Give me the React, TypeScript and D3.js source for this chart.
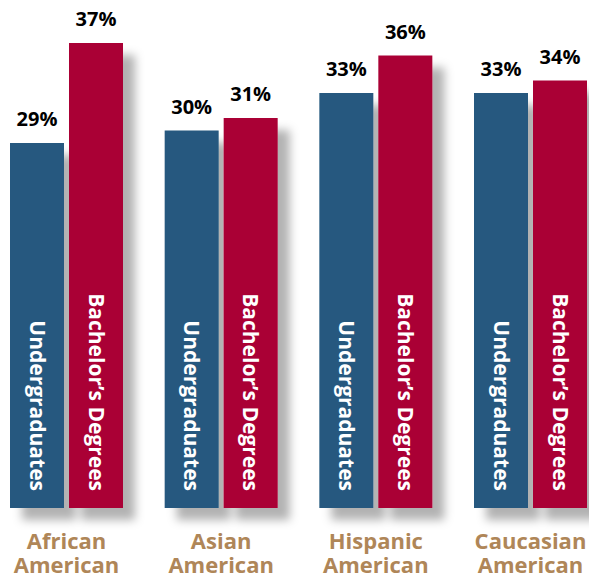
import React from "react";
import * as d3 from "d3";

const categories = ["African\nAmerican", "Asian\nAmerican", "Hispanic\nAmerican", "Caucasian\nAmerican"];
const seriesNames = ["Undergraduates", "Bachelor\u2019s Degrees"];
const undergraduates = [29, 30, 33, 33];
const bachelors = [37, 31, 36, 34];
const seriesValues = [undergraduates, bachelors];
const seriesColors = ["#27587f", "#aa0536"];

const W = 589;
const H = 578;
const BASE = 508;

export default function App() {
  const groupW = 113;
  const x0 = d3.scalePoint<string>().domain(categories).range([10, 587 - groupW]);
  const x1 = d3.scaleBand<string>().domain(seriesNames).range([0, groupW]).paddingInner(5 / 59);
  const y = d3.scaleLinear().domain([0, 37]).range([505.5, 43]);

  return (
    <svg width={W} height={H} style={{ position: "absolute", left: 0, top: 0 }} fontFamily="'Open Sans', sans-serif">
      <defs>
        <filter id="sh" x="-50%" y="-20%" width="200%" height="140%">
          <feDropShadow dx="12" dy="12" stdDeviation="5" floodColor="#000" floodOpacity="0.3" />
        </filter>
      </defs>
      <rect width={W} height={H} fill="#fff" />
      {categories.map((c) => (
        <g key={c} transform={`translate(${x0(c)},0)`}>
          <g filter="url(#sh)">
            {seriesNames.map((s, j) => {
              const i = categories.indexOf(c);
              const v = seriesValues[j][i];
              return (
                <rect key={s} x={x1(s)} y={y(v)} width={x1.bandwidth()} height={BASE - y(v)} fill={seriesColors[j]} />
              );
            })}
          </g>
          {seriesNames.map((s, j) => {
            const i = categories.indexOf(c);
            const v = seriesValues[j][i];
            const cx = (x1(s) as number) + x1.bandwidth() / 2;
            return (
              <g key={s}>
                <text x={cx} y={y(v) - 17} textAnchor="middle" fontSize={20} fontWeight={700} fill="#000">
                  {v}%
                </text>
                <text
                  transform={`translate(${cx - 7.5},491) rotate(90)`}
                  textAnchor="end"
                  fontSize={21}
                  fontWeight={700}
                  fill="#fff"
                >
                  {s}
                </text>
              </g>
            );
          })}
          <text x={groupW / 2} y={549} textAnchor="middle" fontSize={22} fontWeight={700} fill="#af8658">
            {c.split("\n").map((line, k) => (
              <tspan key={k} x={groupW / 2} dy={k === 0 ? 0 : 24}>
                {line}
              </tspan>
            ))}
          </text>
        </g>
      ))}
    </svg>
  );
}
